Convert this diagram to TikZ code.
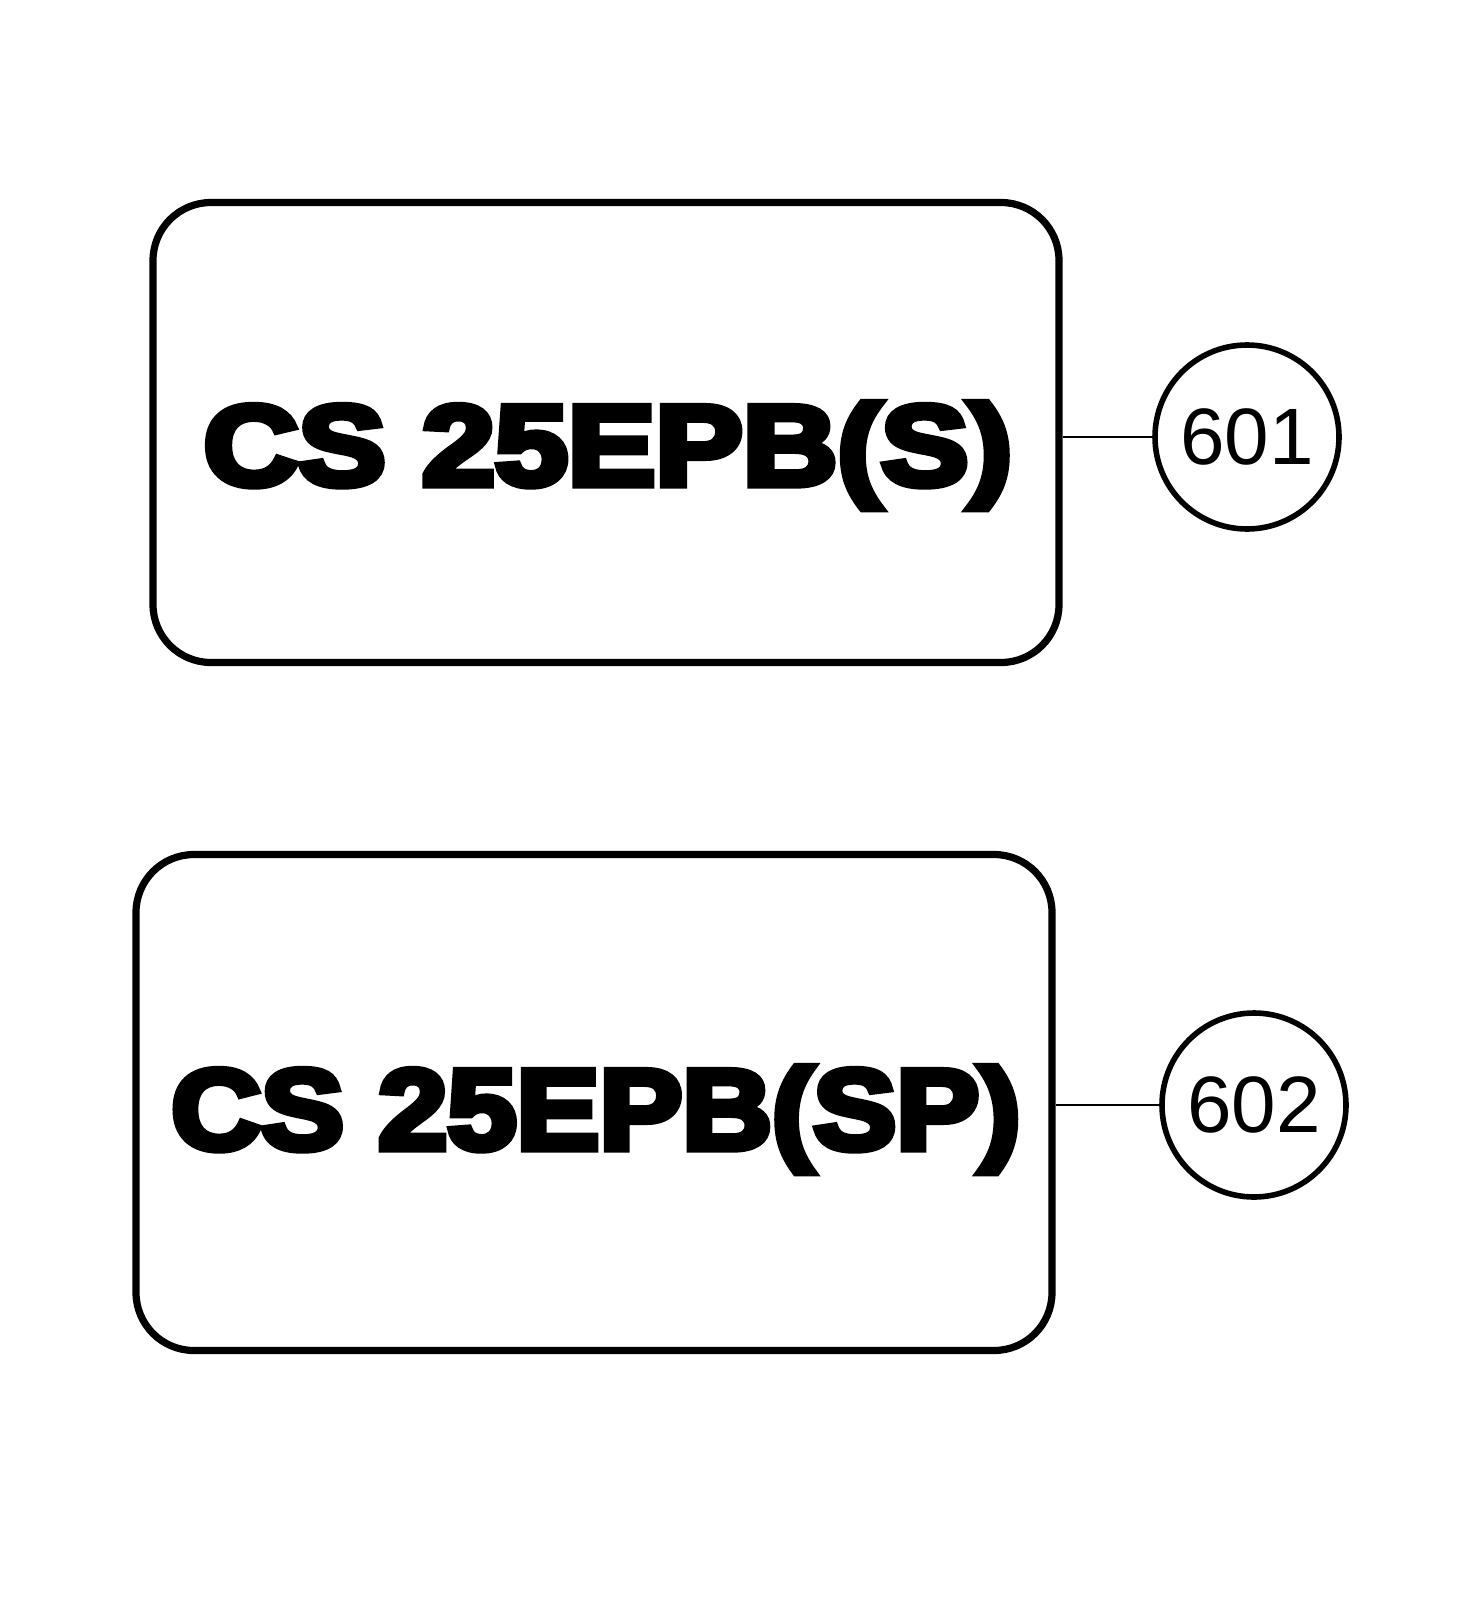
\documentclass[tikz,border=0pt]{standalone}
\usepackage{fontspec}
\setmainfont{Liberation Sans}
\newfontfamily\heavyfont{Liberation Sans}
\newcommand{\heavytext}[1]{\special{pdf:literal direct 2 Tr 3.6 w}#1\special{pdf:literal direct 0 Tr 1 w}}
\begin{document}
\begin{tikzpicture}[x=0.5pt,y=-0.5pt,
  tagbox/.style={draw, line width=3.6pt, rounded corners=29pt, inner sep=0pt},
  partnum/.style={draw, circle, line width=2.8pt, minimum size=92pt, inner sep=0pt, font=\fontsize{40}{40}\selectfont},
  bigtext/.style={anchor=base, inner sep=0pt, font=\heavyfont\bfseries\fontsize{57}{57}\selectfont},
  leader/.style={line width=1.4pt}]
\useasboundingbox (0,0) rectangle (1481,1600);
\node[tagbox, minimum width=453pt, minimum height=230pt] (box1) at (606,432.5) {};
\node[tagbox, minimum width=458pt, minimum height=248pt] (box2) at (594,1102.5) {};
\node[partnum] (c1) at (1247,437) {601};
\node[partnum] (c2) at (1254,1105) {602};
\draw[leader] (c1.west -| box1.east) -- (c1.west);
\draw[leader] (c2.west -| box2.east) -- (c2.west);
\node[bigtext, xscale=1.15] (t1) at (608,485) {\heavytext{CS 25EPB(S)}};
\node[bigtext, xscale=1.09] (t2) at (596,1149) {\heavytext{CS 25EPB(SP)}};
\end{tikzpicture}
\end{document}
